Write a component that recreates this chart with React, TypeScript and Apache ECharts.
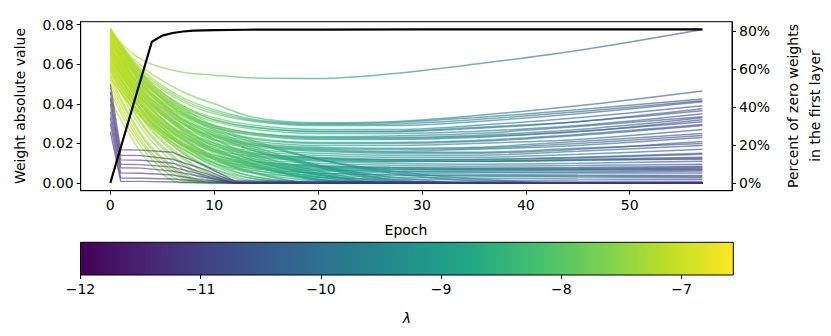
import React, { useEffect, useRef } from "react";
import * as echarts from "echarts";

const EPOCHS = [0, 2, 4, 7, 10, 14, 20, 27, 35, 45, 57];

// Two outlying weights that stay large
const OUTLIERS: number[][] = [
  [0.077, 0.066, 0.06, 0.056, 0.0545, 0.053, 0.0528, 0.0552, 0.06, 0.067, 0.0776],
  [0.077, 0.064, 0.055, 0.046, 0.04, 0.033, 0.0305, 0.031, 0.034, 0.039, 0.0465],
];

// Weights that shrink, then grow again
const SURVIVORS: number[][] = [
  [0.076, 0.063, 0.053, 0.043, 0.037, 0.032, 0.03, 0.0305, 0.033, 0.037, 0.0425],
  [0.075, 0.062, 0.052, 0.042, 0.036, 0.0315, 0.0295, 0.0298, 0.032, 0.036, 0.0415],
  [0.074, 0.061, 0.051, 0.041, 0.035, 0.031, 0.029, 0.029, 0.031, 0.035, 0.041],
  [0.072, 0.059, 0.049, 0.039, 0.033, 0.029, 0.027, 0.027, 0.029, 0.033, 0.039],
  [0.071, 0.058, 0.048, 0.038, 0.032, 0.028, 0.026, 0.026, 0.0275, 0.031, 0.0375],
  [0.078, 0.062, 0.05, 0.039, 0.032, 0.028, 0.026, 0.026, 0.028, 0.031, 0.0365],
  [0.07, 0.057, 0.047, 0.037, 0.031, 0.027, 0.025, 0.025, 0.026, 0.029, 0.035],
  [0.078, 0.061, 0.048, 0.036, 0.029, 0.025, 0.0235, 0.0238, 0.025, 0.0285, 0.0335],
  [0.068, 0.055, 0.045, 0.035, 0.029, 0.025, 0.023, 0.023, 0.024, 0.027, 0.033],
  [0.067, 0.054, 0.044, 0.034, 0.028, 0.0245, 0.0225, 0.0225, 0.0235, 0.026, 0.032],
  [0.075, 0.059, 0.047, 0.035, 0.028, 0.024, 0.022, 0.022, 0.023, 0.026, 0.031],
  [0.076, 0.06, 0.047, 0.035, 0.027, 0.0225, 0.0205, 0.0205, 0.0215, 0.0245, 0.0295],
  [0.066, 0.052, 0.042, 0.032, 0.026, 0.022, 0.02, 0.02, 0.021, 0.024, 0.029],
  [0.073, 0.057, 0.044, 0.032, 0.025, 0.021, 0.019, 0.019, 0.02, 0.022, 0.027],
  [0.064, 0.05, 0.04, 0.03, 0.024, 0.02, 0.018, 0.0175, 0.018, 0.021, 0.025],
  [0.063, 0.049, 0.039, 0.029, 0.0235, 0.0195, 0.0175, 0.017, 0.0175, 0.02, 0.024],
  [0.071, 0.055, 0.042, 0.03, 0.023, 0.019, 0.017, 0.016, 0.017, 0.019, 0.023],
  [0.062, 0.048, 0.038, 0.028, 0.022, 0.018, 0.016, 0.015, 0.015, 0.017, 0.021],
  [0.077, 0.059, 0.045, 0.032, 0.024, 0.019, 0.0165, 0.0155, 0.0155, 0.0175, 0.02],
  [0.077, 0.058, 0.043, 0.03, 0.022, 0.017, 0.015, 0.014, 0.014, 0.016, 0.019],
  [0.069, 0.052, 0.039, 0.027, 0.02, 0.016, 0.014, 0.013, 0.013, 0.0145, 0.017],
  [0.06, 0.045, 0.035, 0.025, 0.019, 0.015, 0.013, 0.012, 0.012, 0.013, 0.015],
  [0.059, 0.045, 0.034, 0.024, 0.018, 0.0145, 0.0125, 0.0118, 0.0118, 0.0128, 0.0145],
  [0.074, 0.055, 0.04, 0.027, 0.019, 0.014, 0.012, 0.011, 0.011, 0.012, 0.013],
  [0.057, 0.043, 0.033, 0.023, 0.017, 0.0135, 0.0115, 0.0108, 0.0108, 0.0115, 0.0125],
  [0.073, 0.055, 0.041, 0.028, 0.02, 0.015, 0.0125, 0.0115, 0.011, 0.0115, 0.012],
  [0.067, 0.05, 0.037, 0.025, 0.017, 0.013, 0.011, 0.01, 0.0095, 0.01, 0.011],
  [0.058, 0.043, 0.032, 0.022, 0.016, 0.012, 0.01, 0.009, 0.0085, 0.0088, 0.0095],
  [0.055, 0.041, 0.03, 0.02, 0.014, 0.0105, 0.0085, 0.0078, 0.0075, 0.0078, 0.0085],
  [0.072, 0.053, 0.038, 0.024, 0.016, 0.011, 0.009, 0.008, 0.0075, 0.0075, 0.008],
  [0.053, 0.039, 0.029, 0.019, 0.013, 0.0095, 0.0075, 0.0068, 0.0065, 0.0068, 0.0075],
  [0.069, 0.051, 0.037, 0.024, 0.016, 0.011, 0.0085, 0.0075, 0.007, 0.007, 0.007],
  [0.065, 0.047, 0.034, 0.022, 0.014, 0.01, 0.008, 0.007, 0.0065, 0.0063, 0.0065],
  [0.061, 0.044, 0.031, 0.019, 0.012, 0.0082, 0.0065, 0.0058, 0.0055, 0.0056, 0.006],
  [0.056, 0.041, 0.03, 0.019, 0.013, 0.009, 0.007, 0.006, 0.0055, 0.005, 0.005],
  [0.07, 0.05, 0.035, 0.021, 0.013, 0.008, 0.006, 0.005, 0.0045, 0.004, 0.0038],
  [0.065, 0.047, 0.033, 0.02, 0.012, 0.0075, 0.005, 0.0042, 0.0038, 0.0035, 0.0033],
  [0.063, 0.045, 0.031, 0.019, 0.011, 0.007, 0.005, 0.004, 0.0035, 0.003, 0.0027],
  [0.054, 0.039, 0.028, 0.017, 0.01, 0.006, 0.004, 0.003, 0.0025, 0.002, 0.0017],
  [0.068, 0.048, 0.033, 0.019, 0.01, 0.005, 0.003, 0.002, 0.0015, 0.001, 0.0008],
];

// Weights that are driven to zero
const PRUNED: number[][] = [
  [0.078, 0.063, 0.05, 0.038, 0.029, 0.021, 0.012, 0.005, 0.001, 0, 0],
  [0.076, 0.061, 0.049, 0.037, 0.028, 0.02, 0.012, 0.006, 0.002, 0, 0],
  [0.078, 0.062, 0.049, 0.036, 0.027, 0.018, 0.009, 0.002, 0, 0, 0],
  [0.075, 0.061, 0.048, 0.035, 0.026, 0.017, 0.0085, 0.0015, 0, 0, 0],
  [0.076, 0.06, 0.047, 0.034, 0.025, 0.016, 0.008, 0.001, 0, 0, 0],
  [0.074, 0.058, 0.045, 0.033, 0.024, 0.016, 0.009, 0.003, 0, 0, 0],
  [0.072, 0.057, 0.044, 0.031, 0.022, 0.014, 0.006, 0.0005, 0, 0, 0],
  [0.078, 0.06, 0.046, 0.032, 0.022, 0.013, 0.005, 0, 0, 0, 0],
  [0.077, 0.059, 0.045, 0.031, 0.021, 0.012, 0.0045, 0, 0, 0, 0],
  [0.077, 0.058, 0.044, 0.03, 0.02, 0.011, 0.004, 0.001, 0, 0, 0],
  [0.071, 0.054, 0.04, 0.027, 0.019, 0.011, 0.004, 0, 0, 0, 0],
  [0.069, 0.053, 0.039, 0.026, 0.017, 0.0095, 0.003, 0, 0, 0, 0],
  [0.075, 0.056, 0.042, 0.028, 0.018, 0.009, 0.002, 0, 0, 0, 0],
  [0.074, 0.055, 0.041, 0.027, 0.017, 0.0085, 0.0015, 0, 0, 0, 0],
  [0.073, 0.054, 0.04, 0.026, 0.016, 0.008, 0.003, 0, 0, 0, 0],
  [0.068, 0.05, 0.037, 0.024, 0.015, 0.008, 0.002, 0, 0, 0, 0],
  [0.066, 0.049, 0.035, 0.022, 0.013, 0.0065, 0.0015, 0, 0, 0, 0],
  [0.072, 0.052, 0.037, 0.023, 0.013, 0.005, 0, 0, 0, 0, 0],
  [0.065, 0.047, 0.033, 0.02, 0.012, 0.005, 0.001, 0, 0, 0, 0],
  [0.07, 0.051, 0.036, 0.022, 0.012, 0.0045, 0, 0, 0, 0, 0],
  [0.062, 0.044, 0.03, 0.017, 0.009, 0.003, 0, 0, 0, 0, 0],
  [0.069, 0.049, 0.034, 0.019, 0.01, 0.003, 0, 0, 0, 0, 0],
  [0.059, 0.041, 0.028, 0.015, 0.007, 0.002, 0, 0, 0, 0, 0],
  [0.067, 0.047, 0.032, 0.018, 0.0085, 0.002, 0, 0, 0, 0, 0],
  [0.066, 0.045, 0.03, 0.016, 0.007, 0.001, 0, 0, 0, 0, 0],
  [0.064, 0.044, 0.029, 0.015, 0.006, 0.0005, 0, 0, 0, 0, 0],
  [0.063, 0.042, 0.027, 0.013, 0.004, 0, 0, 0, 0, 0, 0],
  [0.061, 0.041, 0.026, 0.012, 0.0035, 0, 0, 0, 0, 0, 0],
  [0.06, 0.039, 0.024, 0.01, 0.002, 0, 0, 0, 0, 0, 0],
  [0.058, 0.038, 0.023, 0.009, 0.0015, 0, 0, 0, 0, 0, 0],
  [0.057, 0.036, 0.021, 0.007, 0.001, 0, 0, 0, 0, 0, 0],
  [0.054, 0.033, 0.018, 0.005, 0, 0, 0, 0, 0, 0, 0],
  [0.052, 0.032, 0.017, 0.004, 0, 0, 0, 0, 0, 0, 0],
  [0.05, 0.03, 0.015, 0.003, 0, 0, 0, 0, 0, 0, 0],
  [0.048, 0.028, 0.014, 0.002, 0, 0, 0, 0, 0, 0, 0],
  [0.046, 0.026, 0.012, 0.001, 0, 0, 0, 0, 0, 0, 0],
  [0.042, 0.023, 0.009, 0, 0, 0, 0, 0, 0, 0, 0],
];

// Weights that collapse right after the first epoch (dark lines)
const EARLY_EPOCHS = [0, 1, 3, 6, 9, 12, 57];
const EARLY_PRUNED: number[][] = [
  [0.05, 0.0168, 0.0166, 0.0155, 0.009, 0.001, 0],
  [0.046, 0.014, 0.0138, 0.012, 0.007, 0.0005, 0],
  [0.043, 0.0117, 0.0115, 0.01, 0.005, 0, 0],
  [0.04, 0.0095, 0.0093, 0.008, 0.004, 0, 0],
  [0.036, 0.0077, 0.0075, 0.006, 0.003, 0, 0],
  [0.033, 0.005, 0.0049, 0.004, 0.0015, 0, 0],
  [0.03, 0.0025, 0.0024, 0.002, 0.0008, 0, 0],
  [0.026, 0.0008, 0.0008, 0.0005, 0.0002, 0, 0],
];

// Percent of zero weights in the first layer
const ZERO_EPOCHS = [0, 4, 5, 6, 7, 8, 10, 13, 16, 20, 30, 40, 50, 57];
const ZERO_PERCENT = [0, 74.4, 77.6, 79.0, 79.8, 80.2, 80.5, 80.7, 80.8, 80.8, 80.9, 80.9, 80.9, 80.9];

const X_TICKS = [0, 10, 20, 30, 40, 50];
const Y_TICKS = [0, 0.02, 0.04, 0.06, 0.08];
const PCT_TICKS = [0, 20, 40, 60, 80];
const LAMBDA_TICKS = [-12, -11, -10, -9, -8, -7];

const VIRIDIS = [
  "#440154", "#482475", "#414487", "#355f8d", "#2a788e", "#21918c",
  "#22a884", "#44bf70", "#7ad151", "#bddf26", "#fde725",
];
const EPOCH_COLORS = ["#c2df23", "#5ec962", "#1fa187", "#23888e", "#2a768e", "#33638d", "#3e4a89"];

const FONT = "DejaVu Sans";

export default function App() {
  const ref = useRef<HTMLDivElement>(null);
  useEffect(() => {
    if (!ref.current) return;
    const chart = echarts.init(ref.current, undefined, { renderer: "svg" });

    const gradLines = [...OUTLIERS, ...SURVIVORS, ...PRUNED];
    const series: any[] = [];
    gradLines.forEach((vals) => {
      series.push({
        type: "line",
        xAxisIndex: 0,
        yAxisIndex: 0,
        data: vals.map((v, j) => [EPOCHS[j], v]),
        showSymbol: false,
        symbol: "none",
        smooth: 0.35,
        lineStyle: { width: 1.5, opacity: 0.62 },
        silent: true,
        z: 2,
      });
    });
    const gradIdx = gradLines.map((_, i) => i);
    EARLY_PRUNED.forEach((vals) => {
      series.push({
        type: "line",
        xAxisIndex: 0,
        yAxisIndex: 0,
        data: vals.map((v, j) => [EARLY_EPOCHS[j], v]),
        symbol: "none",
        lineStyle: { width: 1.4, opacity: 0.6, color: "#46337e" },
        silent: true,
        z: 3,
      });
    });
    series.push({
      type: "line",
      xAxisIndex: 0,
      yAxisIndex: 1,
      data: ZERO_PERCENT.map((v, j) => [ZERO_EPOCHS[j], v]),
      symbol: "none",
      lineStyle: { width: 2.2, color: "#000" },
      silent: true,
      z: 5,
    });

    const tickLabel = { fontFamily: FONT, fontSize: 14, color: "#000" };
    const minus = (v: number) => (v < 0 ? "\u2212" + Math.abs(v) : String(v));
    const axisLine = { show: true, onZero: false, lineStyle: { color: "#000", width: 1 } };

    const cbLeft = 80.5;
    const cbTop = 242.3;
    const cbWidth = 652.8;
    const cbHeight = 32.7;

    chart.setOption({
      animation: false,
      grid: [
        { left: 80.7, top: 21.7, width: 651.3, height: 169, show: true, borderColor: "#000", borderWidth: 1, backgroundColor: "transparent" },
        { left: cbLeft, top: cbTop, width: cbWidth, height: cbHeight, show: false },
      ],
      visualMap: [
        {
          type: "continuous",
          show: false,
          dimension: 0,
          min: 0,
          max: 57,
          seriesIndex: gradIdx,
          inRange: { color: EPOCH_COLORS },
        },
      ],
      xAxis: [
        {
          type: "value",
          gridIndex: 0,
          min: -2.85,
          max: 59.85,
          splitLine: { show: false },
          axisLine,
          axisTick: { show: true, length: 4, lineStyle: { color: "#000" }, customValues: X_TICKS },
          axisLabel: { ...tickLabel, margin: 7, customValues: X_TICKS, formatter: (v: number) => String(v) },
        },
        {
          type: "value",
          gridIndex: 1,
          min: -12,
          max: -6.57,
          splitLine: { show: false },
          axisLine: { show: false, onZero: false },
          axisTick: { show: true, length: 4, lineStyle: { color: "#000" }, customValues: LAMBDA_TICKS },
          axisLabel: { ...tickLabel, margin: 7, customValues: LAMBDA_TICKS, formatter: minus },
        },
      ],
      yAxis: [
        {
          type: "value",
          gridIndex: 0,
          min: -0.0039,
          max: 0.0815,
          splitLine: { show: false },
          axisLine,
          axisTick: { show: true, length: 4, lineStyle: { color: "#000" }, customValues: Y_TICKS },
          axisLabel: { ...tickLabel, margin: 7, customValues: Y_TICKS, formatter: (v: number) => v.toFixed(2) },
        },
        {
          type: "value",
          gridIndex: 0,
          position: "right",
          min: -4.04,
          max: 84.95,
          splitLine: { show: false },
          axisLine,
          axisTick: { show: true, length: 4, lineStyle: { color: "#000" }, customValues: PCT_TICKS },
          axisLabel: { ...tickLabel, margin: 7, customValues: PCT_TICKS, formatter: (v: number) => v + "%" },
        },
        {
          type: "value",
          gridIndex: 1,
          min: 0,
          max: 1,
          show: false,
        },
      ],
      graphic: [
        {
          type: "rect",
          shape: { x: cbLeft, y: cbTop, width: cbWidth, height: cbHeight },
          style: {
            fill: new echarts.graphic.LinearGradient(
              0, 0, 1, 0,
              VIRIDIS.map((c, i) => ({ offset: i / (VIRIDIS.length - 1), color: c }))
            ),
            stroke: "#000",
            lineWidth: 1,
          },
          z: 1,
        },
        {
          type: "text",
          x: 20,
          y: 106,
          rotation: Math.PI / 2,
          style: { text: "Weight absolute value", font: `14px '${FONT}'`, fill: "#000", align: "center", verticalAlign: "middle" },
        },
        {
          type: "text",
          x: 793,
          y: 106,
          rotation: Math.PI / 2,
          style: { text: "Percent of zero weights", font: `14px '${FONT}'`, fill: "#000", align: "center", verticalAlign: "middle" },
        },
        {
          type: "text",
          x: 815,
          y: 106,
          rotation: Math.PI / 2,
          style: { text: "in the first layer", font: `14px '${FONT}'`, fill: "#000", align: "center", verticalAlign: "middle" },
        },
        {
          type: "text",
          x: 406,
          y: 230,
          style: { text: "Epoch", font: `14px '${FONT}'`, fill: "#000", align: "center", verticalAlign: "middle" },
        },
        {
          type: "text",
          x: 407,
          y: 318,
          style: { text: "\u03bb", font: `italic 14px '${FONT}'`, fill: "#000", align: "center", verticalAlign: "middle" },
        },
      ],
      series,
    });
    return () => chart.dispose();
  }, []);
  return <div ref={ref} style={{ position: "fixed", left: 0, top: 0, width: 831, height: 336, background: "#fff" }} />;
}
